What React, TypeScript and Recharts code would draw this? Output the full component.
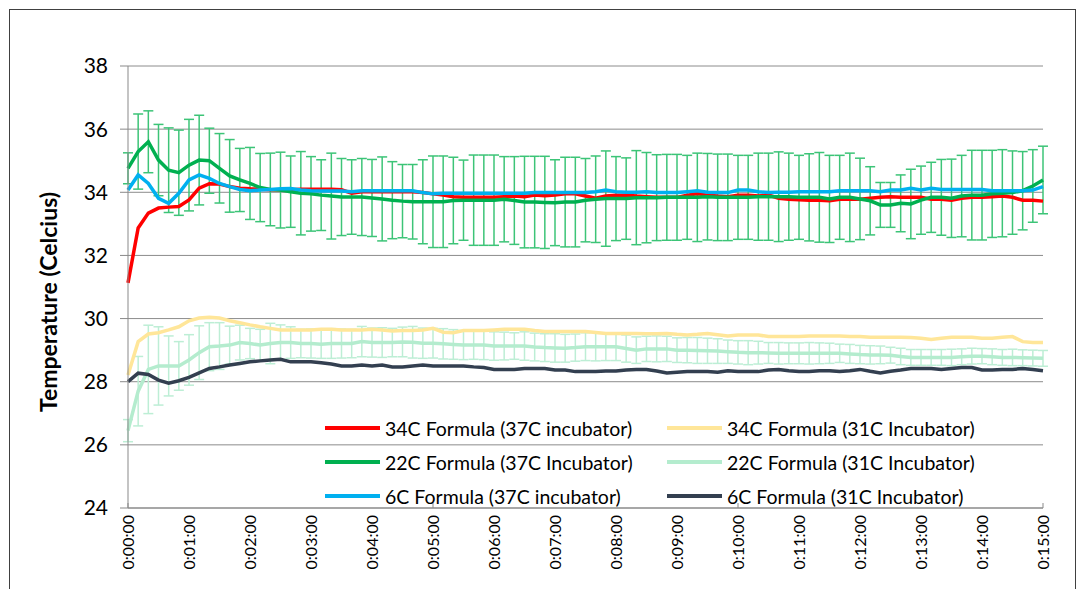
import { CartesianGrid, ErrorBar, Legend, Line, LineChart, XAxis, YAxis } from "recharts"

const FONT = "Lato, 'Open Sans', sans-serif"

// one reading every 10 seconds, 0:00:00 .. 0:15:00
const times = Array.from({ length: 91 }, (_, i) => {
  const m = Math.floor((i * 10) / 60)
  const s = (i * 10) % 60
  return `0:${String(m).padStart(2, "0")}:${String(s).padStart(2, "0")}`
})

const yTicks = [24, 26, 28, 30, 32, 34, 36, 38]

const f34In37 = [
  31.13, 32.87, 33.34, 33.5, 33.53, 33.55, 33.76, 34.13, 34.27, 34.26,
  34.18, 34.13, 34.11, 34.1, 34.08, 34.08, 34.08, 34.1, 34.1, 34.1,
  34.1, 34.08, 33.97, 34.02, 34.02, 34.02, 34.02, 34.02, 34.02, 33.99,
  33.95, 33.91, 33.86, 33.84, 33.84, 33.84, 33.84, 33.86, 33.88, 33.86,
  33.91, 33.89, 33.91, 33.95, 33.95, 33.88, 33.81, 33.88, 33.91, 33.91,
  33.88, 33.86, 33.84, 33.84, 33.84, 33.91, 33.95, 33.91, 33.88, 33.86,
  33.91, 33.91, 33.88, 33.91, 33.81, 33.78, 33.76, 33.75, 33.75, 33.73,
  33.78, 33.78, 33.78, 33.81, 33.84, 33.86, 33.84, 33.84, 33.84, 33.78,
  33.78, 33.75, 33.81, 33.84, 33.84, 33.86, 33.88, 33.84, 33.75, 33.75,
  33.72,
]

const f34In31 = [
  28.21, 29.27, 29.51, 29.55, 29.64, 29.74, 29.93, 30.02, 30.04, 30.02,
  29.93, 29.87, 29.8, 29.74, 29.69, 29.64, 29.64, 29.64, 29.64, 29.66,
  29.66, 29.64, 29.64, 29.64, 29.66, 29.64, 29.61, 29.62, 29.62, 29.64,
  29.69, 29.57, 29.55, 29.62, 29.62, 29.62, 29.64, 29.66, 29.66, 29.66,
  29.62, 29.59, 29.59, 29.59, 29.59, 29.59, 29.56, 29.53, 29.53, 29.53,
  29.53, 29.52, 29.52, 29.53, 29.5, 29.48, 29.5, 29.53, 29.49, 29.45,
  29.48, 29.48, 29.48, 29.43, 29.43, 29.43, 29.43, 29.45, 29.45, 29.45,
  29.45, 29.43, 29.43, 29.41, 29.41, 29.41, 29.41, 29.4, 29.38, 29.34,
  29.38, 29.41, 29.41, 29.41, 29.38, 29.38, 29.41, 29.43, 29.27, 29.24,
  29.24,
]

const f22In37 = [
  34.76, 35.29, 35.6, 35.02, 34.7, 34.62, 34.86, 35.02, 35.0, 34.76,
  34.52, 34.39, 34.28, 34.15, 34.09, 34.07, 34.02, 33.97, 33.95, 33.91,
  33.88, 33.85, 33.85, 33.85, 33.82, 33.79, 33.75, 33.72, 33.7, 33.7,
  33.7, 33.7, 33.74, 33.75, 33.75, 33.75, 33.75, 33.78, 33.74, 33.69,
  33.69, 33.68, 33.67, 33.69, 33.69, 33.75, 33.78, 33.8, 33.8, 33.8,
  33.83, 33.83, 33.83, 33.84, 33.84, 33.84, 33.84, 33.86, 33.84, 33.84,
  33.84, 33.84, 33.86, 33.86, 33.86, 33.86, 33.84, 33.84, 33.84, 33.79,
  33.84, 33.84, 33.79, 33.73, 33.6, 33.6, 33.65, 33.63, 33.75, 33.84,
  33.84, 33.81, 33.88, 33.91, 33.91, 33.95, 33.97, 33.99, 34.05, 34.2,
  34.39,
]

const f22In37Err = [
  0.49, 1.19, 0.98, 1.13, 1.34, 1.35, 1.45, 1.42, 1.03, 1.1,
  1.15, 1.0, 1.14, 1.08, 1.15, 1.2, 1.13, 1.32, 1.18, 1.12,
  1.36, 1.22, 1.18, 1.22, 1.22, 1.33, 1.22, 1.16, 1.18, 1.33,
  1.45, 1.45, 1.37, 1.27, 1.43, 1.43, 1.43, 1.35, 1.39, 1.45,
  1.45, 1.46, 1.36, 1.42, 1.42, 1.32, 1.37, 1.51, 1.33, 1.29,
  1.49, 1.43, 1.36, 1.36, 1.36, 1.33, 1.4, 1.37, 1.37, 1.37,
  1.33, 1.33, 1.38, 1.38, 1.42, 1.38, 1.33, 1.38, 1.42, 1.38,
  1.33, 1.4, 1.29, 1.08, 0.71, 0.71, 0.9, 1.1, 1.08, 1.11,
  1.2, 1.24, 1.29, 1.42, 1.42, 1.38, 1.38, 1.32, 1.24, 1.15,
  1.07,
]

const f22In31 = [
  26.45, 27.7, 28.39, 28.5, 28.5, 28.5, 28.69, 28.92, 29.11, 29.13,
  29.16, 29.24, 29.21, 29.16, 29.21, 29.24, 29.24, 29.21, 29.21, 29.19,
  29.21, 29.21, 29.21, 29.27, 29.24, 29.24, 29.24, 29.26, 29.25, 29.22,
  29.22, 29.2, 29.18, 29.16, 29.16, 29.16, 29.13, 29.13, 29.13, 29.13,
  29.1, 29.08, 29.07, 29.06, 29.08, 29.11, 29.11, 29.11, 29.11, 29.05,
  29.0, 29.04, 29.04, 29.04, 29.0, 29.0, 28.99, 28.98, 28.97, 28.95,
  28.93, 28.92, 28.92, 28.91, 28.9, 28.9, 28.9, 28.9, 28.9, 28.9,
  28.9, 28.88, 28.86, 28.85, 28.85, 28.84, 28.8, 28.77, 28.77, 28.77,
  28.77, 28.77, 28.79, 28.81, 28.81, 28.79, 28.77, 28.77, 28.76, 28.75,
  28.74,
]

const f22In31Err = [
  0.35, 1.1, 1.4, 1.24, 0.95, 0.77, 0.8, 0.85, 0.76, 0.74,
  0.6, 0.55, 0.48, 0.5, 0.64, 0.56, 0.5, 0.45, 0.46, 0.45,
  0.47, 0.46, 0.45, 0.48, 0.46, 0.47, 0.45, 0.47, 0.5, 0.48,
  0.47, 0.48, 0.47, 0.46, 0.45, 0.46, 0.45, 0.44, 0.42, 0.45,
  0.44, 0.44, 0.45, 0.44, 0.43, 0.44, 0.45, 0.44, 0.44, 0.43,
  0.42, 0.4, 0.41, 0.4, 0.39, 0.4, 0.41, 0.4, 0.39, 0.37,
  0.37, 0.38, 0.36, 0.33, 0.34, 0.33, 0.33, 0.34, 0.33, 0.32,
  0.29, 0.3, 0.29, 0.29, 0.28, 0.25, 0.26, 0.25, 0.25, 0.25,
  0.25, 0.26, 0.25, 0.25, 0.24, 0.25, 0.25, 0.26, 0.25, 0.25,
  0.25,
]

const f6In37 = [
  34.07, 34.55, 34.28, 33.81, 33.65, 33.97, 34.39, 34.55, 34.44, 34.28,
  34.18, 34.09, 34.05, 34.07, 34.09, 34.11, 34.12, 34.07, 34.05, 34.04,
  34.04, 34.04, 34.02, 34.05, 34.05, 34.05, 34.05, 34.05, 34.05, 33.99,
  33.95, 33.97, 33.97, 33.97, 33.97, 33.97, 33.97, 33.97, 33.97, 33.97,
  33.99, 33.99, 33.99, 33.99, 33.99, 33.99, 34.02, 34.07, 34.02, 34.0,
  34.0, 34.02, 33.99, 33.99, 33.99, 34.02, 34.05, 34.0, 33.99, 33.99,
  34.07, 34.07, 34.02, 33.99, 34.0, 34.0, 34.02, 34.02, 34.02, 34.02,
  34.05, 34.05, 34.05, 34.05, 34.02, 34.07, 34.07, 34.13, 34.07, 34.13,
  34.09, 34.09, 34.09, 34.09, 34.09, 34.05, 34.05, 34.05, 34.05, 34.07,
  34.18,
]

const f6In31 = [
  28.0, 28.27, 28.23, 28.05, 27.95, 28.03, 28.14, 28.28, 28.42, 28.47,
  28.53, 28.58, 28.63, 28.66, 28.69, 28.71, 28.63, 28.63, 28.63, 28.6,
  28.56, 28.5, 28.5, 28.53, 28.5, 28.53, 28.47, 28.47, 28.5, 28.53,
  28.5, 28.5, 28.5, 28.5, 28.47, 28.45, 28.39, 28.39, 28.39, 28.42,
  28.42, 28.42, 28.37, 28.37, 28.32, 28.32, 28.32, 28.34, 28.34, 28.37,
  28.39, 28.39, 28.34, 28.28, 28.3, 28.32, 28.32, 28.32, 28.3, 28.35,
  28.32, 28.32, 28.32, 28.37, 28.39, 28.35, 28.32, 28.32, 28.35, 28.35,
  28.32, 28.35, 28.39, 28.33, 28.28, 28.33, 28.37, 28.42, 28.42, 28.42,
  28.39, 28.42, 28.45, 28.45, 28.37, 28.37, 28.39, 28.39, 28.42, 28.39,
  28.35,
]

const series = [
  { key: "f34In37", name: "34C Formula (37C incubator)", color: "#FF0000" },
  { key: "f34In31", name: "34C Formula (31C Incubator)", color: "#FFE699" },
  { key: "f22In37", name: "22C Formula (37C Incubator)", color: "#00B050" },
  { key: "f22In31", name: "22C Formula (31C Incubator)", color: "#B4ECCE" },
  { key: "f6In37", name: "6C Formula (37C incubator)", color: "#00B0F0" },
  { key: "f6In31", name: "6C Formula (31C Incubator)", color: "#333F50" },
]

const data = times.map((time, i) => ({
  time,
  f34In37: f34In37[i],
  f34In31: f34In31[i],
  f22In37: f22In37[i],
  f22In37Err: f22In37Err[i],
  f22In31: f22In31[i],
  f22In31Err: f22In31Err[i],
  f6In37: f6In37[i],
  f6In31: f6In31[i],
}))

function TimeTick(props: any) {
  const { x, y, payload } = props
  const minute = Number(String(payload.value).split(":")[1])
  const ty = y + 7
  return (
    <g>
      {minute % 5 === 0 && <line x1={x} x2={x} y1={y - 5} y2={y} stroke="#898989" />}
      <text
        x={x}
        y={ty}
        transform={`rotate(-90, ${x}, ${ty})`}
        textAnchor="end"
        dy="0.35em"
        fontSize={16}
        fontFamily={FONT}
        fill="#000"
      >
        {payload.value}
      </text>
    </g>
  )
}

// Excel lists the entries row by row in series order; skip the error-bar carriers
function LegendBox(props: any) {
  const items = (props.payload || [])
    .filter((item: any) => item.type !== "none" && series.some((s) => s.name === item.value))
    .sort(
      (a: any, b: any) =>
        series.findIndex((s) => s.name === a.value) - series.findIndex((s) => s.name === b.value)
    )
  return (
    <div style={{ display: "grid", gridTemplateColumns: "342px 342px", fontFamily: FONT, fontSize: 19.5, color: "#000" }}>
      {items.map((item: any) => (
        <div key={item.value} style={{ display: "flex", alignItems: "center", height: 34, whiteSpace: "nowrap" }}>
          <span style={{ display: "inline-block", width: 55, height: 4, background: item.color, marginRight: 5 }} />
          {item.value}
        </div>
      ))}
    </div>
  )
}

export default function App() {
  return (
    <div style={{ position: "relative", width: 1068, height: 581 }}>
      <div
        style={{
          position: "absolute",
          left: 1,
          top: 1,
          width: 1067,
          height: 580,
          borderTop: "1px solid #404040",
          borderLeft: "1px solid #404040",
          borderRight: "1px solid #404040",
          boxSizing: "border-box",
        }}
      />
      <LineChart width={1068} height={581} data={data} margin={{ top: 58, right: 33, bottom: 0, left: 0 }}>
        <CartesianGrid vertical={false} stroke="#8c8c8c" />
        <XAxis
          dataKey="time"
          interval={5}
          height={81}
          tickSize={0}
          tickMargin={0}
          tickLine={false}
          axisLine={{ stroke: "#898989" }}
          tick={<TimeTick />}
        />
        <YAxis
          width={120}
          domain={[24, 38]}
          ticks={yTicks}
          tickSize={8}
          tickMargin={12}
          axisLine={{ stroke: "#898989" }}
          tickLine={{ stroke: "#898989" }}
          tick={{ fontSize: 21, fill: "#000", fontFamily: FONT }}
          label={{
            content: () => (
              <text
                x={40}
                y={294}
                transform="rotate(-90, 40, 294)"
                textAnchor="middle"
                dominantBaseline="central"
                fontSize={23}
                fontWeight="bold"
                fontFamily={FONT}
                fill="#000"
              >
                Temperature (Celcius)
              </text>
            ),
          }}
        />
        <Legend
          layout="vertical"
          align="center"
          verticalAlign="middle"
          itemSorter={null as any}
          content={<LegendBox />}
          wrapperStyle={{ left: 317, top: 403, width: 700 }}
        />
        {/* error bars first so every line sits on top of them */}
        <Line dataKey="f22In37" stroke="none" dot={false} activeDot={false} legendType="none" isAnimationActive={false}>
          <ErrorBar dataKey="f22In37Err" direction="y" width={5} strokeWidth={1.5} stroke="#3CC477" />
        </Line>
        <Line dataKey="f22In31" stroke="none" dot={false} activeDot={false} legendType="none" isAnimationActive={false}>
          <ErrorBar dataKey="f22In31Err" direction="y" width={5} strokeWidth={1.5} stroke="#BDEED5" />
        </Line>
        {series.map((s) => (
          <Line
            key={s.key}
            dataKey={s.key}
            name={s.name}
            stroke={s.color}
            strokeWidth={3.5}
            dot={false}
            activeDot={false}
            isAnimationActive={false}
          />
        ))}
      </LineChart>
    </div>
  )
}
